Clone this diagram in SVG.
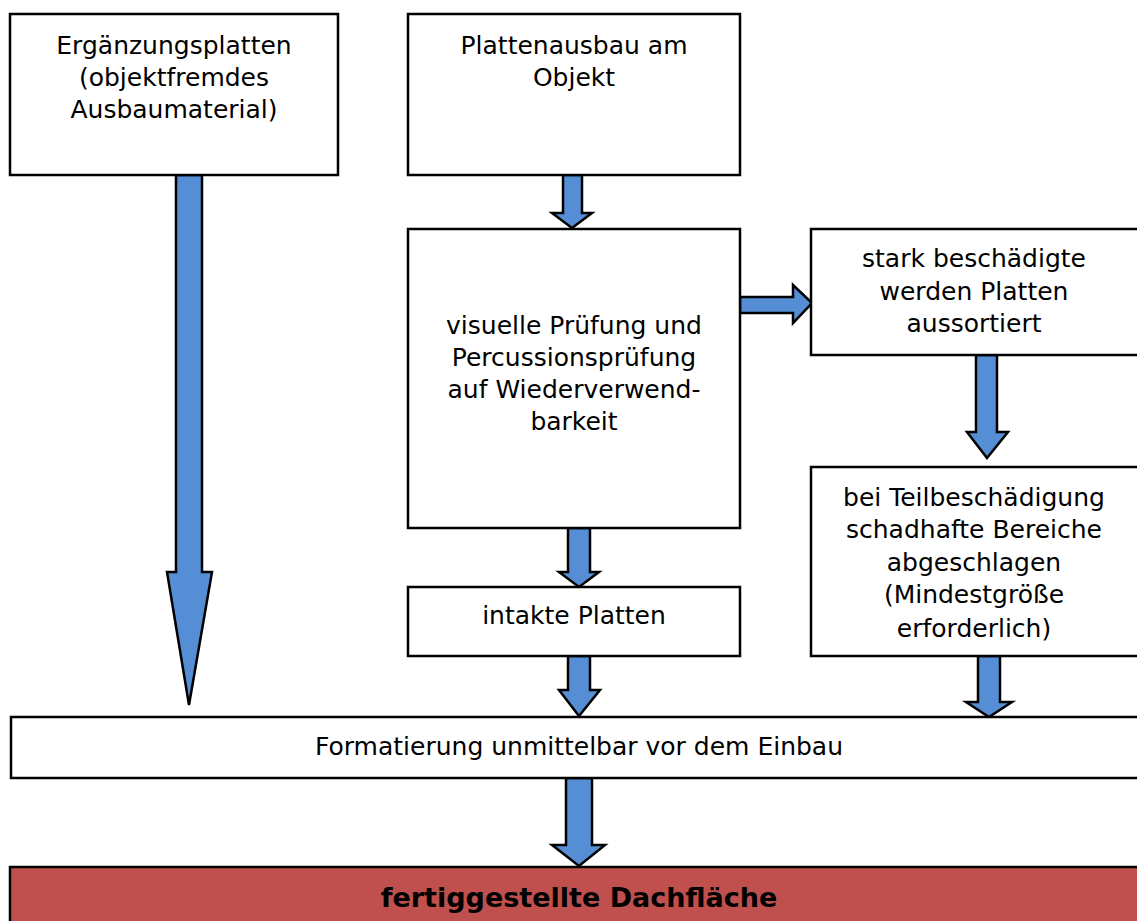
<svg xmlns="http://www.w3.org/2000/svg" width="1137" height="921" viewBox="0 0 1137 921">
<style>
.box{fill:#ffffff;stroke:#000000;stroke-width:2.5}
.red{fill:#c0504d;stroke:#000000;stroke-width:2.5}
.arr{fill:#558ed5;stroke:#000000;stroke-width:2.5;stroke-linejoin:miter}
.t{font-family:"DejaVu Sans","Liberation Sans",sans-serif;font-size:25px;fill:#000000;text-anchor:middle}
.b{font-family:"DejaVu Sans","Liberation Sans",sans-serif;font-size:27px;font-weight:bold;fill:#000000;text-anchor:middle}
</style>
<rect width="1137" height="921" fill="#ffffff"/>
<g id="connectors">
<polygon class="arr" points="176,175 202,175 202,572 212,572 189,705 167,572 176,572"/>
<polygon class="arr" points="563,175 582,175 582,213 592,213 572,228 552,213 563,213"/>
<polygon class="arr" points="740,297 793,297 793,285 812,303 793,323 793,313 740,313"/>
<polygon class="arr" points="976,355 997,355 997,432 1008,432 987,458 967,432 976,432"/>
<polygon class="arr" points="568,528 590,528 590,572 599,572 579,587 559,572 568,572"/>
<polygon class="arr" points="568,656 590,656 590,690 600,690 579,716 559,690 568,690"/>
<polygon class="arr" points="978,656 1000,656 1000,702 1012,702 989,717 966,702 978,702"/>
<polygon class="arr" points="566,778 592,778 592,845 605,845 579,866 552,845 566,845"/>
</g>
<g id="node-erg">
<rect class="box" x="10" y="14" width="328" height="161"/>
<text class="t" x="174" y="54">Ergänzungsplatten</text>
<text class="t" x="174" y="86">(objektfremdes</text>
<text class="t" x="174" y="118">Ausbaumaterial)</text>
</g>
<g id="node-ausbau">
<rect class="box" x="408" y="14" width="332" height="161"/>
<text class="t" x="574" y="54">Plattenausbau am</text>
<text class="t" x="574" y="86">Objekt</text>
</g>
<g id="node-pruefung">
<rect class="box" x="408" y="229" width="332" height="299"/>
<text class="t" x="574" y="334">visuelle Prüfung und</text>
<text class="t" x="574" y="366">Percussionsprüfung</text>
<text class="t" x="574" y="398">auf Wiederverwend-</text>
<text class="t" x="574" y="430">barkeit</text>
</g>
<g id="node-stark">
<rect class="box" x="811" y="229" width="340" height="126"/>
<text class="t" x="974" y="267">stark beschädigte</text>
<text class="t" x="974" y="300">werden Platten</text>
<text class="t" x="974" y="332">aussortiert</text>
</g>
<g id="node-teil">
<rect class="box" x="811" y="467" width="340" height="189"/>
<text class="t" x="974" y="506">bei Teilbeschädigung</text>
<text class="t" x="974" y="538">schadhafte Bereiche</text>
<text class="t" x="974" y="571">abgeschlagen</text>
<text class="t" x="974" y="603">(Mindestgröße</text>
<text class="t" x="974" y="637">erforderlich)</text>
</g>
<g id="node-intakt">
<rect class="box" x="408" y="587" width="332" height="69"/>
<text class="t" x="574" y="624">intakte Platten</text>
</g>
<g id="node-format">
<rect class="box" x="11" y="717" width="1140" height="61"/>
<text class="t" x="579" y="755">Formatierung unmittelbar vor dem Einbau</text>
</g>
<g id="node-dach">
<rect class="red" x="10" y="867" width="1140" height="70"/>
<text class="b" x="579" y="907">fertiggestellte Dachfläche</text>
</g>
</svg>
